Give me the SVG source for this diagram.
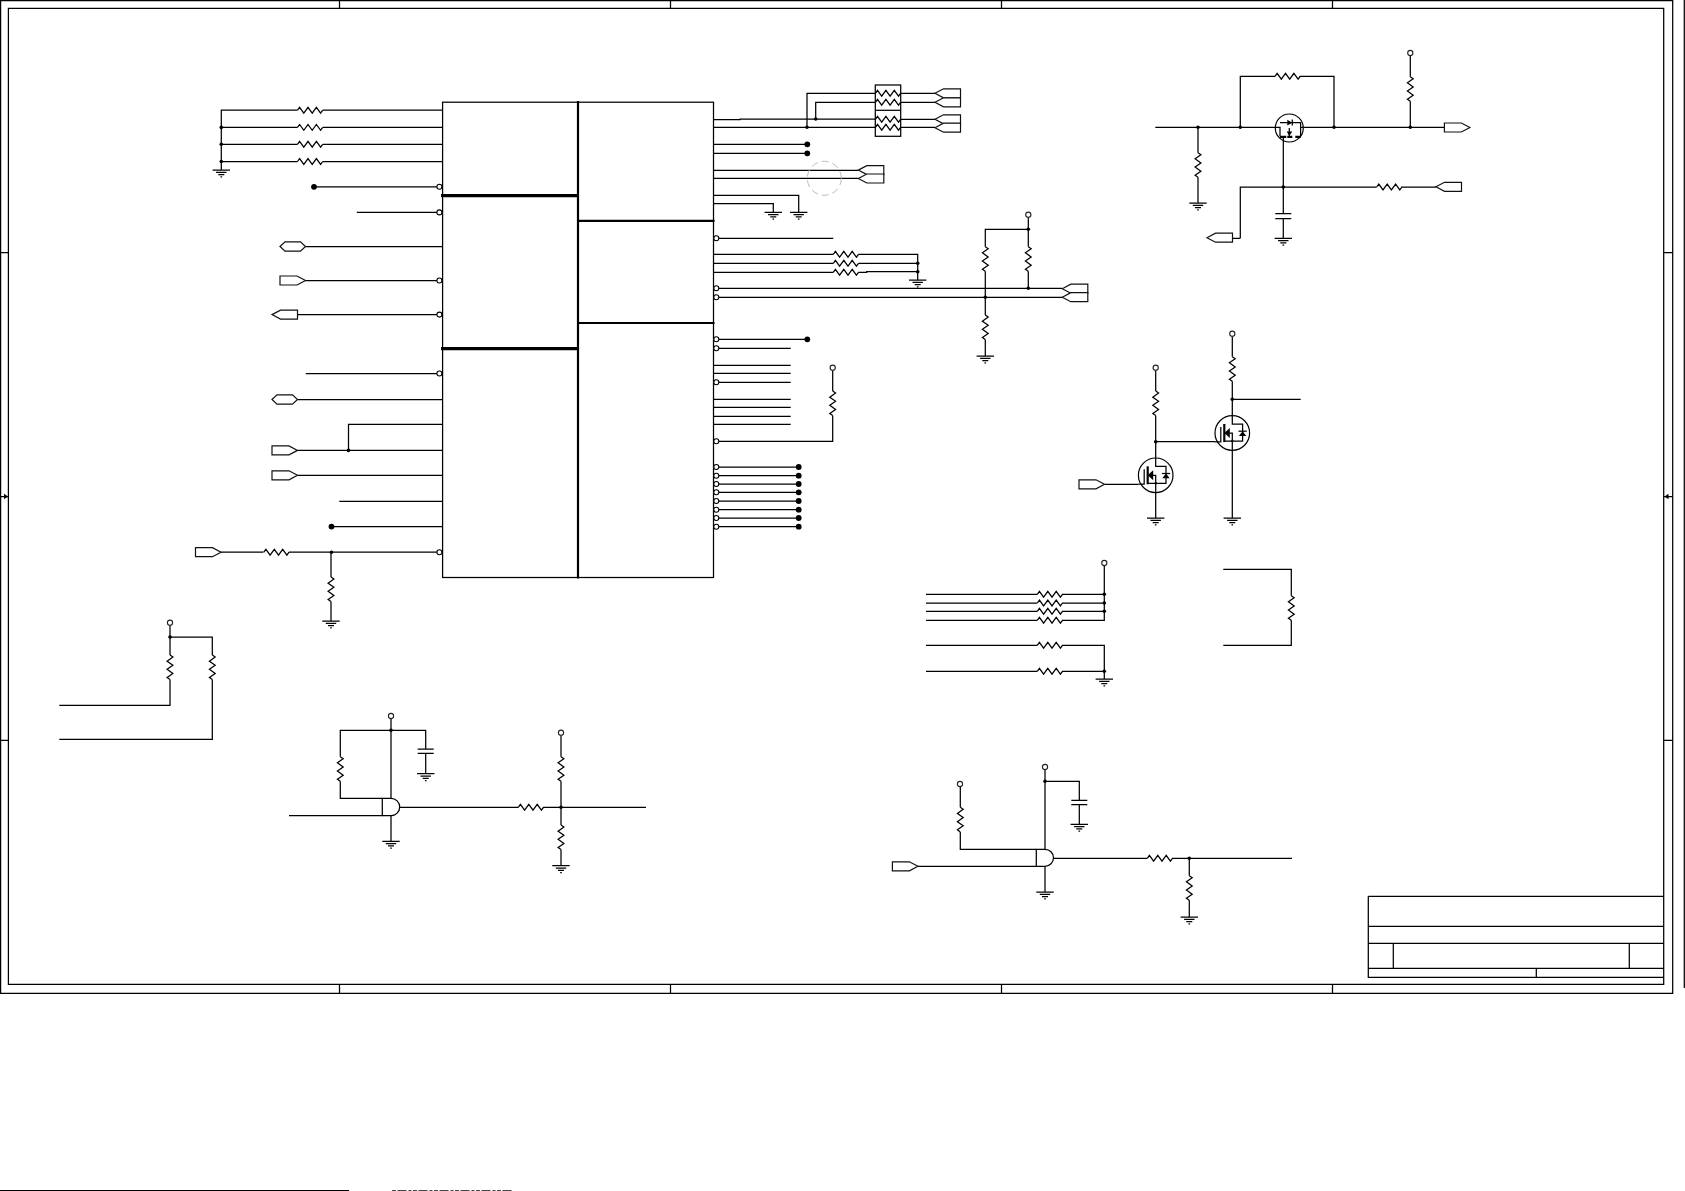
<svg xmlns="http://www.w3.org/2000/svg" width="1685" height="1191" viewBox="0 0 1685 1191">
<style>
.w{fill:none;stroke:#000;stroke-width:1.25;stroke-linejoin:miter}
.b{fill:none;stroke:#000;stroke-width:1.25}
.p{fill:#fff;stroke:#000;stroke-width:1.1}
.thick{fill:none;stroke:#000;stroke-width:2.2}
.thicker{fill:none;stroke:#000;stroke-width:3.2}
.s{fill:#000;stroke:none}
.h{fill:#fff;stroke:#111;stroke-width:1.2}
</style>
<defs>
<path id="rh" class="w" d="M0 0l2.1-2.9 4.2 5.8 4.2-5.8 4.2 5.8 4.2-5.8 4.2 5.8 2.1-2.9"/>
<path id="rv" class="w" d="M0 0l2.9 2.05-5.8 4.1 5.8 4.1-5.8 4.1 5.8 4.1-5.8 4.1 2.9 2.05"/>
<g id="gnd" class="w"><path d="M-8.7 0h17.4M-5.2 2.4h10.4M-3 4.6h6M-.8 6.9h1.6"/></g>
<circle id="bub" r="2.5" class="p"/>
<circle id="vcc" r="2.6" fill="#fff" stroke="#222" stroke-width="1.1"/>
<circle id="d" r="1.8" class="s"/>
<circle id="D" r="2.9" class="s"/>
<polygon id="or" class="h" points="0,-4.5 17,-4.5 25.5,0 17,4.5 0,4.5"/>
<polygon id="ol" class="h" points="0,0 8.5,-4.5 25.5,-4.5 25.5,4.5 8.5,4.5"/>
<polygon id="ox" class="h" points="0,0 5,-4.6 20.5,-4.6 25.5,0 20.5,4.6 5,4.6"/>
<g id="nmos">
<circle r="17.3" fill="#fff" stroke="#000" stroke-width="1.2"/>
<path class="w" d="M0-17.3V-9H10.3V8H-8M0 0V17.3M-3 0H0V8M-17.3 8.8H-11.5V-6"/>
<path class="thick" d="M-8-9V9"/>
<polygon class="s" points="-8,0 -2.5,-5 -2.5,5"/>
<polygon class="s" points="6.6,3 14,3 10.3,-1.8"/>
<path class="w" d="M6.2-1.8H14.4"/>
<circle cx="0" cy="8" r="1.2" class="s"/>
</g>
<g id="pmos">
<circle r="14" fill="#fff" stroke="#000" stroke-width="1.2"/>
<path class="w" d="M-14-.7H-9.3V8M-9.3-5.3H11.3V8M11.3-.7H14M-6 9V14M0 0V8"/>
<path class="thick" d="M-9.5 8.8H-3M-2 8.8H3M6 8.8H11.5"/>
<polygon class="s" points="-2.6,3.4 3,3.4 0,8"/>
<polygon class="s" points="-2,-8.2 -2,-2.6 3,-5.3"/>
<path class="w" d="M3-8.4V-2.4"/>
</g>
</defs>
<rect width="1685" height="1191" fill="#fff"/>

<g id="frame">
<path class="b" d="M.6.6H1672.7V993.3H.6ZM8.4 8.4H1663.7V984.3H8.4Z"/>
<path class="b" d="M339.5.6V8.4M670.5.6V8.4M1001.5.6V8.4M1332.5.6V8.4M339.5 984.3V993.3M670.5 984.3V993.3M1001.5 984.3V993.3M1332.5 984.3V993.3"/>
<path class="b" d="M.6 252.6H8.4M.6 740.4H8.4M1663.7 252.6H1672.7M1663.7 740.4H1672.7M.6 496.5H8.4M1663.7 496.5H1672.7M1684.3 0V988"/>
<polygon class="s" points="8,496.5 4,493.8 4,499.2"/>
<polygon class="s" points="1664.5,496.5 1668.5,493.8 1668.5,499.2"/>
<path fill="none" stroke="#000" stroke-width="1.2" d="M0 1190.5H349"/>
<path fill="none" stroke="#333" stroke-width="1" stroke-dasharray="4 1.5 9 2 3 1.5" d="M392 1190.6H513"/>
</g>

<g id="title-block">
<path class="b" d="M1368.3 896.3H1663.7M1368.3 896.3V977.3H1663.7M1368.3 926.3H1663.7M1368.3 943.3H1663.7M1368.3 968.3H1663.7M1393.3 943.3V968.3M1629.3 943.3V968.3M1536.3 968.3V977.3"/>
</g>

<g id="u1">
<rect x="442.6" y="102.2" width="270.9" height="475.3" class="b"/>
<path class="thick" d="M578 101V578.5M578 220.8H714.5M578 323H714.5"/>
<path class="thicker" d="M441 195.6H579M441 348.6H579"/>
</g>

<g id="connectors">
<path class="w" d="M221.3 170V110.2H297.5M322.8 110.2H442.6M221.3 127.4H297.5M322.8 127.4H442.6M221.3 144.3H297.5M322.8 144.3H442.6M221.3 161.5H297.5M322.8 161.5H442.6"/>
<path class="w" d="M314 186.8H437M356.8 212.4H437M305.3 246.5H442.6M305.3 280.5H437M297.5 314.6H437M305.8 373.5H437M297.5 399.5H442.6"/>
<path class="w" d="M442.6 424.4H348.5V450.4M297.5 450.4H442.6M297.5 475.3H442.6M339.3 501.3H442.6M331.5 526.6H442.6"/>
<path class="w" d="M221 552.2H263.5M289 552.2H437M331 552.2V577M331 601.6V621"/>
<path class="w" d="M713.5 119.5H740V119H875.3M713.5 127.3H875.3M807 127.3V93.3H875.3M815.7 119V102.3H875.3"/>
<path class="w" d="M900.7 93.3H935M900.7 102.3H935M900.7 119.3H935M900.7 127.3H935"/>
<path class="w" d="M713.5 144.3H807M713.5 153.3H807M713.5 170.3H858.3M713.5 178.3H858.3"/>
<path class="w" d="M713.5 195.3H798.7V212.3M713.5 203.7H773.3V212.3"/>
<path class="w" d="M719 238.3H833.3M713.5 254.3H833.3M858.3 254.3H917.7V280M713.5 263.3H833.3M858.3 263.3H917.7M713.5 272.3H833.3M858.3 272.3H866.7V271.7H917.7"/>
<path class="w" d="M719 288.3H1062.3M719 297.3H1062.3M1028.3 217.3V246.7M1028.3 271.3V288.3M1028.3 229.3H985.3V246.7M985.3 271.3V315M985.3 339.6V356"/>
<path class="w" d="M719 339.3H807.3M719 348.3H790.7M713.5 365.3H790.7M713.5 373.3H790.7M719 382.3H790.7M713.5 399.3H790.7M713.5 407.3H790.7M713.5 416.3H790.7M713.5 424.3H790.7"/>
<path class="w" d="M719 441.3H832.7V415.6M832.7 391V370.3"/>
<path class="w" d="M719 467H798.7M719 475.7H798.7M719 484H798.7M719 492.3H798.7M719 501H798.7M719 509.7H798.7M719 518H798.7M719 526.7H798.7"/>
<path class="w" d="M1155.3 127.3H1275.3M1303.3 127.3H1444.3M1198 127.3V152.7M1198 177.3V203M1240.3 127.3V76.3H1275M1299.6 76.3H1334V127.3M1410.3 55.6V76.7M1410.3 101.3V127.3"/>
<path class="w" d="M1283.3 142V213.7M1283.3 218.7V238.3M1240.3 238.3V187H1376.7M1401.3 187H1436M1240.3 238.3H1232"/>
<path class="w" d="M1155.7 370.3V391M1155.7 415.6V458M1155.7 492.6V518M1155.7 441.7H1215M1232.3 336.3V356.7M1232.3 381.3V415.7M1232.3 450.3V518M1232.3 399.3H1300.7M1104.7 484.3H1138.4"/>
<path class="w" d="M926 594.3H1037.3M1062 594.3H1104.3M926 603H1037.3M1062 603H1104.3M926 611.3H1037.3M1062 611.3H1104.3M926 620.3H1037.3M1062 620.3H1104.3V565.6"/>
<path class="w" d="M926 645.3H1037.3M1062 645.3H1104.3V679M926 671.3H1037.3M1062 671.3H1104.3"/>
<path class="w" d="M1223.3 569.3H1291.3V595.7M1291.3 620.3V645.3H1223.3"/>
<path class="w" d="M170 625.3V655M170 679.6V705.3H59.3M170 637H212.3V655M212.3 679.6V739.3H59.3"/>
<path class="w" d="M391 718.6V798.3M340.3 756.7V730.3H425.7V749M425.7 753.3V773.7M340.3 781.3V798.3H382.3M289 815.7H382.3M391 815.7V841.3"/>
<path class="w" d="M400 807.3H518.3M543 807.3H646M561 735.3V756.7M561 781.3V825M561 849.6V865.7"/>
<path class="w" d="M960.3 786.6V807.3M960.3 832V849.3H1036.3M918 866.3H1036.3M1045 769.6V849.3M1045 781.3H1079.3V800.3M1079.3 804.7V824.3M1045 866.3V892"/>
<path class="w" d="M1053.7 858.3H1147.3M1172 858.3H1292M1189.3 858.3V875.7M1189.3 900.3V917"/>
<circle cx="824.3" cy="178.3" r="17" fill="none" stroke="#bbb" stroke-width="1" stroke-dasharray="7 4"/>
</g>

<g id="left-resistors">
<use href="#rh" x="297.5" y="110.2"/><use href="#rh" x="297.5" y="127.4"/><use href="#rh" x="297.5" y="144.3"/><use href="#rh" x="297.5" y="161.5"/>
<use href="#gnd" x="221.3" y="170"/>
<use href="#d" x="221.3" y="127.4"/><use href="#d" x="221.3" y="144.3"/><use href="#d" x="221.3" y="161.5"/>
</g>
<g id="left-pins">
<use href="#D" x="314" y="186.8"/><use href="#D" x="331.5" y="526.6"/>
<use href="#bub" x="439.4" y="186.8"/><use href="#bub" x="439.4" y="212.4"/><use href="#bub" x="439.4" y="280.5"/><use href="#bub" x="439.4" y="314.6"/><use href="#bub" x="439.4" y="373.5"/><use href="#bub" x="439.4" y="552.2"/>
<use href="#ox" x="280" y="246.5"/><use href="#or" x="280" y="280.5"/><use href="#ol" x="272" y="314.6"/><use href="#ox" x="272" y="399.5"/><use href="#or" x="272" y="450.4"/><use href="#or" x="272" y="475.3"/>
<use href="#d" x="348.5" y="450.4"/>
</g>
<g id="reset-input">
<use href="#or" x="195.5" y="552.2"/><use href="#rh" x="263.8" y="552.2"/><use href="#d" x="331.5" y="552.2"/><use href="#rv" x="331" y="577"/><use href="#gnd" x="331" y="621"/>
</g>
<g id="rn-pack">
<rect x="875.3" y="85" width="25.4" height="51.3" fill="#fff" stroke="#000" stroke-width="1.25"/>
<path class="w" d="M875.3 110.3H900.7"/>
<use href="#rh" x="875.4" y="93.3"/><use href="#rh" x="875.4" y="102.3"/><use href="#rh" x="875.4" y="119.3"/><use href="#rh" x="875.4" y="127.3"/>
<use href="#d" x="807" y="127.3"/><use href="#d" x="815.7" y="119"/>
<use href="#ol" x="935" y="93.3"/><use href="#ol" x="935" y="102.3"/><use href="#ol" x="935" y="119.3"/><use href="#ol" x="935" y="127.7"/>
</g>
<g id="right-top-pins">
<use href="#D" x="807.3" y="144.3"/><use href="#D" x="807.3" y="153.3"/>
<use href="#ol" x="858.3" y="170.1"/><use href="#ol" x="858.3" y="178.5"/>
<use href="#gnd" x="798.7" y="212.3"/><use href="#gnd" x="773.3" y="212.3"/>
<use href="#bub" x="716.3" y="238.3"/>
</g>
<g id="rn-mid">
<use href="#rh" x="833.3" y="254.3"/><use href="#rh" x="833.3" y="263.3"/><use href="#rh" x="833.3" y="272.3"/>
<use href="#d" x="917.7" y="263.3"/><use href="#d" x="917.7" y="271.7"/><use href="#gnd" x="917.7" y="280"/>
</g>
<g id="usb-net">
<use href="#bub" x="716.3" y="288.3"/><use href="#bub" x="716.3" y="297.3"/>
<use href="#ol" x="1062.3" y="288.7"/><use href="#ol" x="1062.3" y="297.2"/>
<use href="#vcc" x="1028.3" y="214.7"/><use href="#d" x="1028.3" y="229.3"/><use href="#d" x="1028.3" y="288.3"/><use href="#d" x="985.3" y="297.3"/>
<use href="#rv" x="985.3" y="246.7"/><use href="#rv" x="1028.3" y="246.7"/><use href="#rv" x="985.3" y="315"/><use href="#gnd" x="985.3" y="356"/>
</g>
<g id="right-pins">
<use href="#bub" x="716.3" y="339.3"/><use href="#bub" x="716.3" y="348.3"/><use href="#bub" x="716.3" y="382.3"/><use href="#bub" x="716.3" y="441.3"/>
<use href="#D" x="807.3" y="339.3"/>
<use href="#vcc" x="832.7" y="367.7"/><use href="#rv" x="832.7" y="391"/>
<use href="#bub" x="716.3" y="467"/><use href="#bub" x="716.3" y="475.7"/><use href="#bub" x="716.3" y="484"/><use href="#bub" x="716.3" y="492.3"/><use href="#bub" x="716.3" y="501"/><use href="#bub" x="716.3" y="509.7"/><use href="#bub" x="716.3" y="518"/><use href="#bub" x="716.3" y="526.7"/>
<use href="#D" x="798.7" y="467"/><use href="#D" x="798.7" y="475.7"/><use href="#D" x="798.7" y="484"/><use href="#D" x="798.7" y="492.3"/><use href="#D" x="798.7" y="501"/><use href="#D" x="798.7" y="509.7"/><use href="#D" x="798.7" y="518"/><use href="#D" x="798.7" y="526.7"/>
</g>
<g id="power-switch">
<use href="#pmos" x="1289.3" y="128"/>
<use href="#d" x="1198" y="127.3"/><use href="#d" x="1240.3" y="127.3"/><use href="#d" x="1334" y="127.3"/><use href="#d" x="1410.3" y="127.3"/><use href="#d" x="1283.3" y="187"/>
<use href="#rv" x="1198" y="152.7"/><use href="#gnd" x="1198" y="203"/>
<use href="#rh" x="1275" y="76.3"/>
<use href="#vcc" x="1410.3" y="53"/><use href="#rv" x="1410.3" y="76.7"/>
<use href="#or" x="1444.4" y="127.5"/>
<use href="#rh" x="1376.7" y="187"/><use href="#ol" x="1436" y="186.8"/><use href="#ol" x="1207" y="237.7"/>
<path class="w" d="M1275.3 213.7H1291.3M1275.3 218.7H1291.3"/><use href="#gnd" x="1283.3" y="238.3"/>
</g>
<g id="level-shift">
<use href="#nmos" x="1232.3" y="433"/><use href="#nmos" x="1155.7" y="475.3"/>
<use href="#vcc" x="1232.3" y="333.7"/><use href="#rv" x="1232.3" y="356.7"/><use href="#d" x="1232.3" y="399.3"/><use href="#gnd" x="1232.3" y="518"/>
<use href="#vcc" x="1155.7" y="367.7"/><use href="#rv" x="1155.7" y="391"/><use href="#d" x="1155.7" y="441.7"/><use href="#gnd" x="1155.7" y="518"/>
<use href="#or" x="1079" y="484.3"/>
</g>
<g id="pullups">
<use href="#vcc" x="1104.3" y="563"/><use href="#rh" x="1037.3" y="594.3"/><use href="#rh" x="1037.3" y="603"/><use href="#rh" x="1037.3" y="611.3"/><use href="#rh" x="1037.3" y="620.3"/>
<use href="#d" x="1104.3" y="594.3"/><use href="#d" x="1104.3" y="603"/><use href="#d" x="1104.3" y="611.3"/>
<use href="#rh" x="1037.3" y="645.3"/><use href="#rh" x="1037.3" y="671.3"/><use href="#d" x="1104.3" y="671.3"/><use href="#gnd" x="1104.3" y="679"/>
<use href="#rv" x="1291.3" y="595.7"/>
</g>
<g id="i2c-pullups">
<use href="#vcc" x="170" y="622.7"/><use href="#d" x="170" y="637"/><use href="#rv" x="170" y="655"/><use href="#rv" x="212.3" y="655"/>
</g>
<g id="gate-left">
<path fill="#fff" stroke="#000" stroke-width="1.25" d="M382.3 798.3H391A8.7 8.7 0 0 1 391 815.7H382.3Z"/>
<use href="#vcc" x="391" y="716"/><use href="#d" x="391" y="730.3"/><use href="#rv" x="340.3" y="756.7"/>
<path class="w" d="M417.7 749H433.7M417.7 753.3H433.7"/><use href="#gnd" x="425.7" y="773.7"/><use href="#gnd" x="391" y="841.3"/>
<use href="#rh" x="518.3" y="807.3"/><use href="#d" x="561" y="807.3"/>
<use href="#vcc" x="561" y="732.7"/><use href="#rv" x="561" y="756.7"/><use href="#rv" x="561" y="825"/><use href="#gnd" x="561" y="865.7"/>
</g>
<g id="gate-right">
<path fill="#fff" stroke="#000" stroke-width="1.25" d="M1036.3 849.3H1045A8.5 8.5 0 0 1 1045 866.3H1036.3Z"/>
<use href="#vcc" x="960" y="784"/><use href="#rv" x="960.3" y="807.3"/>
<use href="#vcc" x="1045" y="767"/><use href="#d" x="1045" y="781.3"/>
<path class="w" d="M1071.3 800.3H1087.3M1071.3 804.7H1087.3"/><use href="#gnd" x="1079.3" y="824.3"/><use href="#gnd" x="1045" y="892"/>
<use href="#or" x="892.4" y="866.3"/>
<use href="#rh" x="1147.3" y="858.3"/><use href="#d" x="1189.3" y="858.3"/><use href="#rv" x="1189.3" y="875.7"/><use href="#gnd" x="1189.3" y="917"/>
</g>
</svg>
